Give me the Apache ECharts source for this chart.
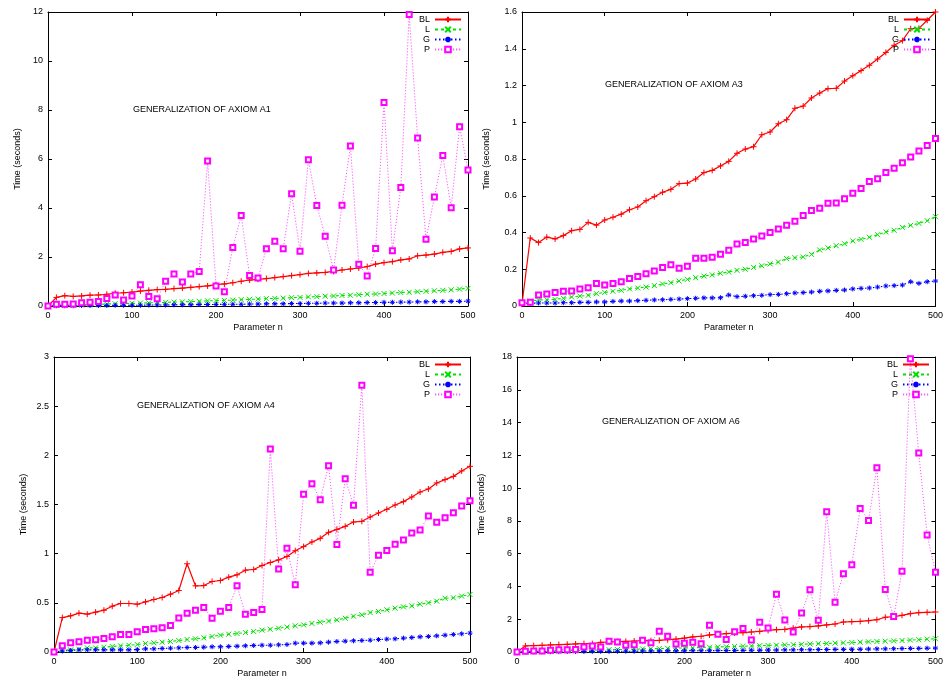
<!DOCTYPE html>
<html>
<head>
<meta charset="utf-8">
<script src="https://cdn.jsdelivr.net/npm/echarts@6/dist/echarts.min.js"></script>
<style>
html,body{margin:0;padding:0;background:#fff;}
#chart{width:946px;height:682px;}
</style>
</head>
<body>
<div id="chart"></div>
<script>
// Parameter n (x values)
const nValues = [0,10,20,30,40,50,60,70,80,90,100,110,120,130,140,150,160,170,180,190,200,210,220,230,240,250,260,270,280,290,300,310,320,330,340,350,360,370,380,390,400,410,420,430,440,450,460,470,480,490,500];
const seriesNames = ['BL','L','G','P'];

// GENERALIZATION OF AXIOM A1
const a1BL = [0,0.35,0.42,0.39,0.41,0.44,0.45,0.48,0.52,0.54,0.57,0.61,0.64,0.67,0.68,0.71,0.73,0.76,0.79,0.82,0.87,0.90,0.95,1.01,1.06,1.09,1.12,1.16,1.20,1.24,1.28,1.33,1.35,1.37,1.41,1.47,1.51,1.55,1.61,1.71,1.77,1.81,1.88,1.92,2.05,2.08,2.12,2.19,2.23,2.33,2.37];
const a1L = [0,0.02,0.03,0.04,0.05,0.06,0.07,0.08,0.09,0.10,0.11,0.12,0.13,0.14,0.15,0.16,0.17,0.18,0.19,0.21,0.22,0.23,0.24,0.26,0.27,0.28,0.30,0.31,0.32,0.34,0.35,0.37,0.38,0.40,0.41,0.43,0.44,0.46,0.48,0.49,0.51,0.53,0.55,0.56,0.58,0.60,0.62,0.64,0.66,0.69,0.72];
const a1G = [0,0.01,0.01,0.01,0.02,0.02,0.02,0.02,0.03,0.03,0.03,0.03,0.04,0.04,0.04,0.05,0.05,0.05,0.06,0.06,0.06,0.07,0.07,0.07,0.08,0.08,0.09,0.09,0.09,0.10,0.10,0.11,0.11,0.12,0.12,0.12,0.13,0.13,0.14,0.14,0.15,0.15,0.16,0.16,0.17,0.17,0.18,0.18,0.19,0.19,0.20];
const a1P = [0,0.07,0.07,0.08,0.13,0.15,0.18,0.31,0.45,0.24,0.41,0.87,0.39,0.30,1.01,1.31,0.98,1.31,1.41,5.92,0.82,0.58,2.39,3.69,1.24,1.14,2.34,2.64,2.34,4.58,2.23,5.97,4.10,2.85,1.47,4.11,6.53,1.70,1.22,2.35,8.31,2.26,4.84,11.9,6.86,2.72,4.45,6.14,4.01,7.32,5.55];

// GENERALIZATION OF AXIOM A3
const a3BL = [0.01,0.37,0.345,0.375,0.365,0.383,0.41,0.417,0.455,0.44,0.468,0.483,0.50,0.524,0.539,0.573,0.595,0.619,0.635,0.666,0.669,0.691,0.726,0.738,0.762,0.787,0.831,0.854,0.867,0.932,0.947,0.992,1.014,1.076,1.088,1.132,1.159,1.183,1.185,1.224,1.253,1.281,1.31,1.344,1.38,1.419,1.444,1.509,1.511,1.555,1.6];
const a3L = [0.015,0.027,0.033,0.034,0.036,0.042,0.049,0.054,0.058,0.067,0.074,0.08,0.085,0.093,0.098,0.103,0.111,0.12,0.127,0.136,0.145,0.154,0.163,0.169,0.178,0.185,0.194,0.20,0.21,0.219,0.229,0.239,0.258,0.263,0.267,0.281,0.305,0.316,0.328,0.339,0.354,0.363,0.374,0.388,0.403,0.412,0.428,0.439,0.45,0.464,0.486];
const a3G = [0.015,0.015,0.016,0.016,0.016,0.018,0.018,0.02,0.02,0.022,0.022,0.025,0.027,0.027,0.029,0.031,0.033,0.034,0.036,0.038,0.04,0.042,0.044,0.044,0.045,0.06,0.051,0.053,0.056,0.058,0.062,0.063,0.067,0.071,0.073,0.076,0.08,0.082,0.085,0.087,0.093,0.096,0.098,0.103,0.109,0.111,0.114,0.132,0.123,0.132,0.136];
const a3P = [0.018,0.02,0.06,0.065,0.074,0.08,0.082,0.093,0.10,0.123,0.114,0.123,0.132,0.149,0.161,0.176,0.19,0.209,0.225,0.205,0.216,0.26,0.26,0.265,0.281,0.303,0.337,0.345,0.365,0.381,0.40,0.419,0.439,0.461,0.492,0.52,0.532,0.559,0.56,0.584,0.613,0.64,0.677,0.693,0.726,0.749,0.78,0.811,0.844,0.873,0.911];

// GENERALIZATION OF AXIOM A4
const a4BL = [0,0.35,0.368,0.395,0.385,0.405,0.425,0.466,0.493,0.493,0.486,0.51,0.534,0.554,0.588,0.625,0.897,0.673,0.676,0.717,0.727,0.761,0.785,0.832,0.839,0.88,0.91,0.937,0.971,1.03,1.072,1.119,1.156,1.217,1.247,1.278,1.322,1.329,1.373,1.414,1.451,1.495,1.529,1.576,1.627,1.658,1.719,1.753,1.786,1.841,1.888];
const a4L = [0,0.019,0.022,0.029,0.042,0.042,0.049,0.056,0.063,0.069,0.076,0.086,0.093,0.10,0.107,0.117,0.127,0.134,0.144,0.158,0.171,0.181,0.188,0.198,0.208,0.222,0.232,0.242,0.253,0.266,0.276,0.29,0.303,0.314,0.327,0.344,0.364,0.378,0.401,0.412,0.429,0.446,0.459,0.469,0.486,0.50,0.517,0.547,0.551,0.568,0.585];
const a4G = [0,0.01,0.015,0.022,0.022,0.022,0.022,0.022,0.022,0.022,0.025,0.032,0.032,0.036,0.039,0.042,0.046,0.046,0.049,0.053,0.053,0.056,0.059,0.063,0.066,0.069,0.069,0.073,0.076,0.09,0.09,0.09,0.093,0.10,0.107,0.11,0.114,0.117,0.12,0.127,0.131,0.134,0.141,0.147,0.154,0.158,0.164,0.171,0.178,0.185,0.192];
const a4P = [0,0.063,0.093,0.103,0.12,0.124,0.137,0.154,0.178,0.178,0.205,0.229,0.236,0.246,0.27,0.347,0.395,0.425,0.453,0.344,0.415,0.453,0.673,0.385,0.402,0.432,2.064,0.844,1.054,0.685,1.603,1.712,1.549,1.895,1.092,1.763,1.492,2.712,0.81,0.983,1.031,1.095,1.139,1.21,1.241,1.383,1.319,1.366,1.417,1.485,1.539];

// GENERALIZATION OF AXIOM A6
const a6BL = [0,0.37,0.39,0.41,0.43,0.45,0.47,0.49,0.51,0.51,0.59,0.61,0.63,0.65,0.67,0.69,0.69,0.71,0.75,0.79,0.85,0.92,0.96,1.04,1.08,1.12,1.16,1.18,1.22,1.26,1.32,1.36,1.38,1.46,1.53,1.55,1.59,1.65,1.71,1.83,1.85,1.87,1.91,1.97,2.12,2.16,2.24,2.34,2.40,2.42,2.44];
const a6L = [0,0.03,0.04,0.05,0.06,0.07,0.08,0.09,0.10,0.11,0.13,0.14,0.15,0.16,0.17,0.19,0.20,0.21,0.22,0.24,0.25,0.26,0.28,0.29,0.31,0.32,0.34,0.35,0.37,0.39,0.40,0.42,0.44,0.45,0.47,0.49,0.51,0.52,0.54,0.56,0.58,0.60,0.62,0.64,0.66,0.68,0.70,0.73,0.75,0.78,0.81];
const a6G = [0,0.01,0.01,0.02,0.02,0.02,0.03,0.03,0.03,0.04,0.04,0.04,0.05,0.05,0.05,0.06,0.06,0.06,0.07,0.07,0.07,0.08,0.08,0.08,0.09,0.09,0.10,0.10,0.11,0.11,0.12,0.12,0.13,0.13,0.14,0.14,0.15,0.15,0.16,0.16,0.17,0.17,0.18,0.19,0.19,0.20,0.21,0.22,0.22,0.23,0.24];
const a6P = [0,0.04,0.06,0.06,0.10,0.14,0.14,0.16,0.31,0.37,0.31,0.65,0.61,0.41,0.45,0.71,0.57,1.26,0.96,0.49,0.53,0.59,0.51,1.63,1.08,0.77,1.24,1.44,0.73,1.81,1.46,3.52,1.95,1.22,2.38,3.80,1.93,8.56,3.03,4.78,5.33,8.75,8.03,11.25,3.82,2.16,4.92,17.9,12.14,7.14,4.86];

// Panel titles and y-axis ranges
const panelTitles = ['GENERALIZATION OF AXIOM A1','GENERALIZATION OF AXIOM A3','GENERALIZATION OF AXIOM A4','GENERALIZATION OF AXIOM A6'];
const yMaxes = [12, 1.6, 3, 18];
const yIntervals = [2, 0.2, 0.5, 2];
const panelData = [[a1BL,a1L,a1G,a1P],[a3BL,a3L,a3G,a3P],[a4BL,a4L,a4G,a4P],[a6BL,a6L,a6G,a6P]];

// layout (not data)
const grids = [
  {left:48, top:12, width:420, height:294},
  {left:522, top:12, width:419, height:294},
  {left:54, top:357, width:416, height:295},
  {left:517, top:357, width:424, height:295}
];
const titlePos = [{left:133, top:105},{left:605, top:80},{left:137, top:401},{left:602, top:417}];
const legendPos = [{right:484, top:15},{right:15, top:15},{right:484, top:360},{right:16, top:360}];

const FONT = 'Liberation Sans, Arial, Helvetica, sans-serif';
const styles = [
  {color:'#ff0000', symbol:'path://M0,5L10,5M5,0L5,10', size:6, line:{type:'solid', width:1.2}},
  {color:'#00e000', symbol:'path://M0,0L10,10M10,0L0,10', size:5, line:{type:[3,3], width:1.1}},
  {color:'#0000ff', symbol:'path://M0,5L10,5M5,0L5,10M1.5,1.5L8.5,8.5M8.5,1.5L1.5,8.5', size:5, line:{type:[1.5,2.5], width:1.1}},
  {color:'#ff00ff', symbol:'emptyRect', size:5, line:{type:[1.2,1.8], width:1, opacity:0.65}}
];

function pairs(ys){ return nValues.map((n,i)=>[n, ys[i]]); }

const option = {
  backgroundColor:'#fff',
  animation:false,
  grid:[], xAxis:[], yAxis:[], series:[], title:[], legend:[]
};

for (let p=0;p<4;p++){
  option.grid.push(Object.assign({containLabel:false}, grids[p]));
  const axLine = {show:true, onZero:false, lineStyle:{color:'#000', width:1}};
  const tick = {show:true, inside:true, length:4, lineStyle:{color:'#000', width:1}};
  option.xAxis.push({
    type:'value', gridIndex:p, min:0, max:500, interval:100, position:'bottom',
    axisLine:axLine, axisTick:tick, splitLine:{show:false},
    axisLabel:{color:'#000', fontSize:9, fontFamily:FONT, margin:5},
    name:'Parameter n', nameLocation:'middle', nameGap:17,
    nameTextStyle:{color:'#000', fontSize:9, fontFamily:FONT}
  });
  option.xAxis.push({
    type:'value', gridIndex:p, min:0, max:500, interval:100, position:'top',
    axisLine:axLine, axisTick:tick, splitLine:{show:false}, axisLabel:{show:false}
  });
  option.yAxis.push({
    type:'value', gridIndex:p, min:0, max:yMaxes[p], interval:yIntervals[p], position:'left',
    axisLine:axLine, axisTick:tick, splitLine:{show:false},
    axisLabel:{color:'#000', fontSize:9, fontFamily:FONT, margin:5},
    name:'Time (seconds)', nameLocation:'middle', nameGap:p%2===0 ? 26 : 31, nameRotate:90,
    nameTextStyle:{color:'#000', fontSize:9, fontFamily:FONT}
  });
  option.yAxis.push({
    type:'value', gridIndex:p, min:0, max:yMaxes[p], interval:yIntervals[p], position:'right',
    axisLine:axLine, axisTick:tick, splitLine:{show:false}, axisLabel:{show:false}
  });
  option.title.push({
    text:panelTitles[p], left:titlePos[p].left, top:titlePos[p].top, padding:0,
    textStyle:{color:'#000', fontSize:9, fontWeight:'normal', fontFamily:FONT}
  });
  option.legend.push({
    data:seriesNames, orient:'vertical', align:'right',
    right:legendPos[p].right, top:legendPos[p].top, padding:0,
    itemWidth:26, itemHeight:7, itemGap:1,
    textStyle:{color:'#000', fontSize:9, fontFamily:FONT, lineHeight:8},
    selectedMode:false
  });
  for (let s=0;s<4;s++){
    const st = styles[s];
    option.series.push({
      type:'line', name:seriesNames[s], xAxisIndex:p*2, yAxisIndex:p*2,
      data:pairs(panelData[p][s]),
      symbol:st.symbol, symbolSize:st.size, showAllSymbol:true,
      color:st.color,
      lineStyle:Object.assign({color:st.color}, st.line),
      itemStyle:{color:st.color, borderColor:st.color, borderWidth:1},
      emphasis:{disabled:true}, z:2+s
    });
  }
}

const chart = echarts.init(document.getElementById('chart'), null, {renderer:'canvas'});
chart.setOption(option);
</script>
</body>
</html>
